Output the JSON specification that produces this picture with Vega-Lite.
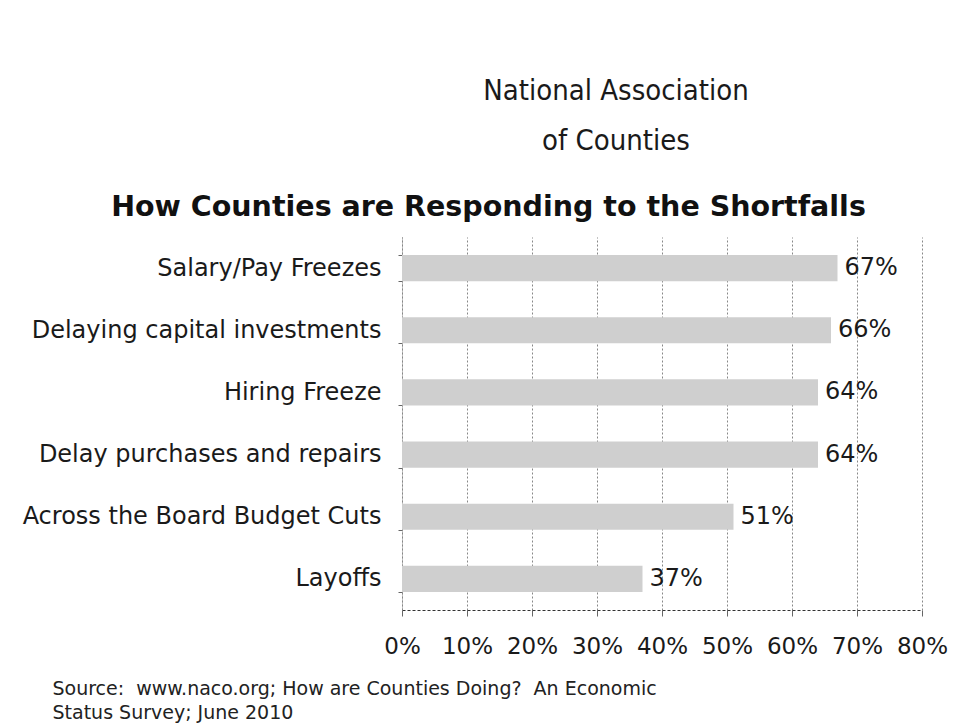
{
  "$schema": "https://vega.github.io/schema/vega-lite/v6.json",
  "width": 520,
  "height": 373,
  "autosize": "none",
  "padding": {"left": 402, "top": 237, "right": 35, "bottom": 113},
  "background": "white",
  "config": {
    "font": "DejaVu Sans",
    "view": {"stroke": null}
  },
  "title": {
    "text": ["National Association", "of Counties"],
    "font": "DejaVu Sans Condensed",
    "fontSize": 29,
    "fontWeight": "normal",
    "color": "#1a1a1a",
    "lineHeight": 50,
    "anchor": "middle",
    "frame": "group",
    "baseline": "top",
    "dx": -46,
    "dy": -36,
    "offset": 0
  },
  "data": {
    "values": [
      {"item": "Salary/Pay Freezes", "share": 0.67},
      {"item": "Delaying capital investments", "share": 0.66},
      {"item": "Hiring Freeze", "share": 0.64},
      {"item": "Delay purchases and repairs", "share": 0.64},
      {"item": "Across the Board Budget Cuts", "share": 0.51},
      {"item": "Layoffs", "share": 0.37}
    ]
  },
  "encoding": {
    "y": {
      "field": "item",
      "type": "nominal",
      "sort": null,
      "scale": {"paddingInner": 0.58, "paddingOuter": 0.29},
      "axis": {
        "title": "How Counties are Responding to the Shortfalls",
        "titleAngle": 0,
        "titleX": 86,
        "titleY": -31,
        "titleAlign": "center",
        "titleBaseline": "middle",
        "titleFontSize": 28.5,
        "titleFontWeight": "bold",
        "titleColor": "#111",
        "labelFontSize": 24,
        "labelColor": "#1a1a1a",
        "labelPadding": 17,
        "labelLimit": 0,
        "tickBand": "extent",
        "tickSize": 4,
        "tickColor": "#666",
        "domainColor": "#888",
        "domainDash": [1, 1],
        "grid": false
      }
    },
    "x": {
      "field": "share",
      "type": "quantitative",
      "scale": {"domain": [0, 0.8], "nice": false},
      "axis": {
        "format": ".0%",
        "values": [0, 0.1, 0.2, 0.3, 0.4, 0.5, 0.6, 0.7, 0.8],
        "labelFontSize": 23,
        "labelColor": "#1a1a1a",
        "labelPadding": 19,
        "labelFlush": false,
        "labelOverlap": false,
        "tickSize": 6,
        "tickColor": "#666",
        "domainColor": "#333",
        "domainDash": [3, 2],
        "grid": true,
        "gridColor": "#888",
        "gridDash": [2, 2],
        "title": ["Source:\u00a0 www.naco.org; How are Counties Doing?\u00a0 An Economic", "Status Survey; June 2010"],
        "titleFontSize": 19,
        "titleFontWeight": "normal",
        "titleColor": "#222",
        "titleAlign": "left",
        "titleAnchor": "start",
        "titleBaseline": "top",
        "titleX": -350,
        "titleY": 69,
        "titleLineHeight": 24
      }
    }
  },
  "layer": [
    {
      "mark": {"type": "bar", "color": "#cfcfcf"}
    },
    {
      "mark": {"type": "text", "align": "left", "dx": 7, "fontSize": 24, "color": "#1a1a1a"},
      "encoding": {
        "text": {"field": "share", "type": "quantitative", "format": ".0%"}
      }
    }
  ]
}
